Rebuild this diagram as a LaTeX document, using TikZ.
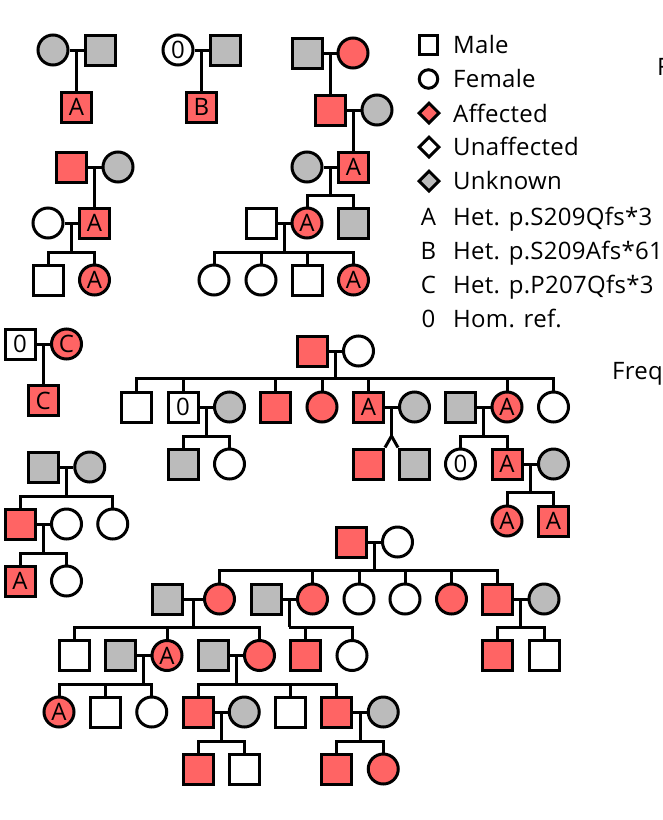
\documentclass[tikz,border=0pt]{standalone}
\usepackage{fontspec}
\setmainfont[LetterSpace=1.2]{Open Sans}
\usepackage{tikz}
\usetikzlibrary{shapes.geometric}
\definecolor{hitred}{HTML}{FF6464}
\definecolor{unkgray}{HTML}{BBBBBB}
\tikzset{
    male/.style={shape=rectangle, draw=black, line width=3pt, minimum size=30pt, inner sep=0pt, font=\fontsize{24}{24}\selectfont},
    female/.style={shape=circle, draw=black, line width=3pt, minimum size=30pt, inner sep=0pt, font=\fontsize{24}{24}\selectfont},
    hit/.style={fill=hitred},
    unk/.style={fill=unkgray},
    rel/.style={line width=3pt},
    keym/.style={shape=rectangle, draw=black, line width=3pt, minimum size=18.5pt, inner sep=0pt},
    keyf/.style={shape=circle, draw=black, line width=3pt, minimum size=18.5pt, inner sep=0pt},
    keyd/.style={shape=diamond, draw=black, line width=3pt, minimum size=21pt, inner sep=0pt},
    keytext/.style={anchor=base west, inner sep=0pt, font=\fontsize{24}{24}\selectfont},
    keyletter/.style={anchor=base, inner sep=0pt, font=\fontsize{24}{24}\selectfont},
}
\begin{document}
\begin{tikzpicture}[x=1pt, y=-1pt]
    \useasboundingbox (0, 0) rectangle (662, 820);
    % first row, left
    \node[female, unk] (A1) at (53, 50) {};
    \node[male, unk] (A2) at (100, 50) {};
    \node[male, hit] (A3) at (76.5, 107) {A};
    \coordinate (Am) at (76.5, 50);
    \draw[rel] (A1) to (A2);
    \draw[rel] (Am) to (A3.north);
    % first row, middle
    \node[female] (B1) at (178, 50) {0};
    \node[male, unk] (B2) at (225, 50) {};
    \node[male, hit] (B3) at (201.5, 107) {B};
    \coordinate (Bm) at (201.5, 50);
    \draw[rel] (B1) to (B2);
    \draw[rel] (Bm) to (B3.north);
    % right column, four generations
    \node[male, unk] (C1) at (307, 53) {};
    \node[female, hit] (C2) at (353, 53) {};
    \node[male, hit] (C3) at (330, 110) {};
    \node[female, unk] (C4) at (377, 110) {};
    \node[male, hit] (C5) at (353.5, 167) {A};
    \node[female, unk] (C6) at (307, 167) {};
    \node[female, hit] (C7) at (307, 223) {A};
    \node[male, unk] (C8) at (353.5, 223) {};
    \node[male] (C9) at (261, 223) {};
    \node[female] (C10) at (214, 280) {};
    \node[female] (C11) at (261, 280) {};
    \node[male] (C12) at (307, 280) {};
    \node[female, hit] (C13) at (353.5, 280) {A};
    \coordinate (Cm1) at (330, 53);
    \coordinate (Cm2) at (353.5, 110);
    \coordinate (Cm3) at (330, 167);
    \coordinate (Cb3) at (330, 195);
    \coordinate (Cm4) at (284, 223);
    \coordinate (Cb4) at (284, 252);
    \draw[rel] (C1) to (C2);
    \draw[rel] (Cm1) to (C3.north);
    \draw[rel] (C3) to (C4);
    \draw[rel] (Cm2) to (C5.north);
    \draw[rel] (C5) to (C6);
    \draw[rel] (Cm3) to (Cb3);
    \draw[rel] (C7.north) |- (Cb3);
    \draw[rel] (C8.north) |- (Cb3);
    \draw[rel] (C9) to (C7);
    \draw[rel] (Cm4) to (Cb4);
    \draw[rel] (C10.north) |- (Cb4);
    \draw[rel] (C11.north) |- (Cb4);
    \draw[rel] (C12.north) |- (Cb4);
    \draw[rel] (C13.north) |- (Cb4);
    % left column, three generations
    \node[male, hit] (D1) at (71, 167) {};
    \node[female, unk] (D2) at (118, 167) {};
    \node[male, hit] (D3) at (94.5, 223) {A};
    \node[female] (D4) at (48, 223) {};
    \node[male] (D5) at (48, 280) {};
    \node[female, hit] (D6) at (94.5, 280) {A};
    \coordinate (Dm1) at (94.5, 167);
    \coordinate (Dm2) at (71, 223);
    \coordinate (Db2) at (71, 252);
    \draw[rel] (D1) to (D2);
    \draw[rel] (Dm1) to (D3.north);
    \draw[rel] (D4) to (D3);
    \draw[rel] (Dm2) to (Db2);
    \draw[rel] (D5.north) |- (Db2);
    \draw[rel] (D6.north) |- (Db2);
    % key
    \node[keym] (K1) at (428.5, 45) {};
    \node[keyf] (K2) at (428.5, 79) {};
    \node[keyd, hit] (K3) at (429, 113) {};
    \node[keyd] (K4) at (429, 147) {};
    \node[keyd, unk] (K5) at (429, 181) {};
    \node[keytext] (T1) at (453, 53) {Male};
    \node[keytext] (T2) at (453, 87) {Female};
    \node[keytext] (T3) at (453, 122) {Affected};
    \node[keytext] (T4) at (453, 155) {Unaffected};
    \node[keytext] (T5) at (453, 189) {Unknown};
    \node[keyletter] (L1) at (428.5, 225.5) {A};
    \node[keyletter] (L2) at (428.5, 259.5) {B};
    \node[keyletter] (L3) at (428.5, 293) {C};
    \node[keyletter] (L4) at (428.5, 327) {0};
    \node[keytext] (T6) at (453, 225.5) {Het. p.S209Qfs*3};
    \node[keytext] (T7) at (453, 259.5) {Het. p.S209Afs*61};
    \node[keytext] (T8) at (453, 293) {Het. p.P207Qfs*3};
    \node[keytext] (T9) at (453, 327) {Hom. ref.};
    \node[keytext] (T10) at (657, 75) {F};
    \node[keytext] (T11) at (612, 379) {Freq};
    % small family, left edge
    \node[male] (E1) at (20, 344) {0};
    \node[female, hit] (E2) at (66.5, 344) {C};
    \node[male, hit] (E3) at (43.25, 400.5) {C};
    \coordinate (Em) at (43.25, 344);
    \draw[rel] (E1) to (E2);
    \draw[rel] (Em) to (E3.north);
    % large family, centre
    \node[male, hit] (F1) at (312, 351) {};
    \node[female] (F2) at (358.5, 351) {};
    \node[male] (F3) at (136.5, 407) {};
    \node[male] (F4) at (183, 407) {0};
    \node[female, unk] (F5) at (229.5, 407) {};
    \node[male, hit] (F6) at (275.5, 407) {};
    \node[female, hit] (F7) at (322, 407) {};
    \node[male, hit] (F8) at (368.5, 407) {A};
    \node[female, unk] (F9) at (414.5, 407) {};
    \node[male, unk] (F10) at (460.5, 407) {};
    \node[female, hit] (F11) at (507, 407) {A};
    \node[female] (F12) at (553.5, 407) {};
    \node[male, unk] (F13) at (183, 464) {};
    \node[female] (F14) at (229.5, 464) {};
    \node[male, hit] (F15) at (368.5, 464) {};
    \node[male, unk] (F16) at (414.5, 464) {};
    \node[female] (F17) at (460.5, 464) {0};
    \node[male, hit] (F18) at (507, 464) {A};
    \node[female, unk] (F19) at (553.5, 464) {};
    \node[female, hit] (F20) at (507, 521) {A};
    \node[male, hit] (F21) at (553.5, 521) {A};
    \coordinate (Fm1) at (335.25, 351);
    \coordinate (Fb1) at (335.25, 378.5);
    \coordinate (Fm2) at (206.25, 407);
    \coordinate (Fb2) at (206.25, 436);
    \coordinate (Fm3) at (391.5, 407);
    \coordinate (Fb3) at (391.5, 436);
    \coordinate (Fm4) at (483.75, 407);
    \coordinate (Fb4) at (483.75, 436);
    \coordinate (Fm5) at (530.25, 464);
    \coordinate (Fb5) at (530.25, 492.5);
    \draw[rel] (F1) to (F2);
    \draw[rel] (Fm1) to (Fb1);
    \draw[rel] (F3.north) |- (Fb1);
    \draw[rel] (F4.north) |- (Fb1);
    \draw[rel] (F6.north) |- (Fb1);
    \draw[rel] (F7.north) |- (Fb1);
    \draw[rel] (F8.north) |- (Fb1);
    \draw[rel] (F11.north) |- (Fb1);
    \draw[rel] (F12.north) |- (Fb1);
    \draw[rel] (F4) to (F5);
    \draw[rel] (Fm2) to (Fb2);
    \draw[rel] (F13.north) |- (Fb2);
    \draw[rel] (F14.north) |- (Fb2);
    \draw[rel] (F8) to (F9);
    \draw[rel] (Fm3) to (Fb3);
    \draw[rel] (Fb3) to (F15.north east);
    \draw[rel] (Fb3) to (F16.north west);
    \draw[rel] (F10) to (F11);
    \draw[rel] (Fm4) to (Fb4);
    \draw[rel] (F17.north) |- (Fb4);
    \draw[rel] (F18.north) |- (Fb4);
    \draw[rel] (F18) to (F19);
    \draw[rel] (Fm5) to (Fb5);
    \draw[rel] (F20.north) |- (Fb5);
    \draw[rel] (F21.north) |- (Fb5);
    % left column, lower
    \node[male, unk] (G1) at (43.25, 467) {};
    \node[female, unk] (G2) at (89.75, 467) {};
    \node[male, hit] (G3) at (20, 524) {};
    \node[female] (G4) at (66.5, 524) {};
    \node[female] (G5) at (112.75, 524) {};
    \node[male, hit] (G6) at (20, 581) {A};
    \node[female] (G7) at (66.5, 581) {};
    \coordinate (Gm1) at (66.5, 467);
    \coordinate (Gb1) at (66.5, 496);
    \coordinate (Gm2) at (43.25, 524);
    \coordinate (Gb2) at (43.25, 553);
    \draw[rel] (G1) to (G2);
    \draw[rel] (Gm1) to (Gb1);
    \draw[rel] (G3.north) |- (Gb1);
    \draw[rel] (G5.north) |- (Gb1);
    \draw[rel] (G3) to (G4);
    \draw[rel] (Gm2) to (Gb2);
    \draw[rel] (G6.north) |- (Gb2);
    \draw[rel] (G7.north) |- (Gb2);
    % bottom family
    \node[male, hit] (H1) at (351, 542) {};
    \node[female] (H2) at (397.5, 542) {};
    \node[male, unk] (H3) at (167, 599) {};
    \node[female, hit] (H4) at (219.5, 599) {};
    \node[male, unk] (H5) at (266, 599) {};
    \node[female, hit] (H6) at (312.5, 599) {};
    \node[female] (H7) at (359, 599) {};
    \node[female] (H8) at (405, 599) {};
    \node[female, hit] (H9) at (451.5, 599) {};
    \node[male, hit] (H10) at (497.5, 599) {};
    \node[female, unk] (H11) at (544, 599) {};
    \node[male] (H12) at (74, 655.5) {};
    \node[male, unk] (H13) at (120.5, 655.5) {};
    \node[female, hit] (H14) at (167, 655.5) {A};
    \node[male, unk] (H15) at (213.25, 655.5) {};
    \node[female, hit] (H16) at (259.5, 655.5) {};
    \node[male, hit] (H17) at (305.75, 655.5) {};
    \node[female] (H18) at (352, 655.5) {};
    \node[male, hit] (H19) at (497.5, 655.5) {};
    \node[male] (H20) at (544, 655.5) {};
    \node[female, hit] (H21) at (59, 712) {A};
    \node[male] (H22) at (105.25, 712) {};
    \node[female] (H23) at (151.75, 712) {};
    \node[male, hit] (H24) at (198, 712) {};
    \node[female, unk] (H25) at (244.25, 712) {};
    \node[male] (H26) at (290.75, 712) {};
    \node[male, hit] (H27) at (336.75, 712) {};
    \node[female, unk] (H28) at (383.25, 712) {};
    \node[male, hit] (H29) at (198, 769) {};
    \node[male] (H30) at (244.25, 769) {};
    \node[male, hit] (H31) at (336.75, 769) {};
    \node[female, hit] (H32) at (383.25, 769) {};
    \coordinate (Hm1) at (374.25, 542);
    \coordinate (Hb1) at (374.25, 570);
    \coordinate (Hm2) at (193.25, 599);
    \coordinate (Hb2) at (193.25, 627);
    \coordinate (Hm3) at (289.25, 599);
    \coordinate (Hb3) at (289.25, 627);
    \coordinate (Hm4) at (520.75, 599);
    \coordinate (Hb4) at (520.75, 627);
    \coordinate (Hm5) at (143.75, 655.5);
    \coordinate (Hb5) at (143.75, 684);
    \coordinate (Hm6) at (236.5, 655.5);
    \coordinate (Hb6) at (236.5, 684);
    \coordinate (Hm7) at (221, 712);
    \coordinate (Hb7) at (221, 741);
    \coordinate (Hm8) at (360, 712);
    \coordinate (Hb8) at (360, 741);
    \draw[rel] (H1) to (H2);
    \draw[rel] (Hm1) to (Hb1);
    \draw[rel] (H4.north) |- (Hb1);
    \draw[rel] (H6.north) |- (Hb1);
    \draw[rel] (H7.north) |- (Hb1);
    \draw[rel] (H8.north) |- (Hb1);
    \draw[rel] (H9.north) |- (Hb1);
    \draw[rel] (H10.north) |- (Hb1);
    \draw[rel] (H3) to (H4);
    \draw[rel] (Hm2) to (Hb2);
    \draw[rel] (H12.north) |- (Hb2);
    \draw[rel] (H14.north) |- (Hb2);
    \draw[rel] (H16.north) |- (Hb2);
    \draw[rel] (H5) to (H6);
    \draw[rel] (Hm3) to (Hb3);
    \draw[rel] (H17.north) |- (Hb3);
    \draw[rel] (H18.north) |- (Hb3);
    \draw[rel] (H10) to (H11);
    \draw[rel] (Hm4) to (Hb4);
    \draw[rel] (H19.north) |- (Hb4);
    \draw[rel] (H20.north) |- (Hb4);
    \draw[rel] (H13) to (H14);
    \draw[rel] (Hm5) to (Hb5);
    \draw[rel] (H21.north) |- (Hb5);
    \draw[rel] (H22.north) |- (Hb5);
    \draw[rel] (H23.north) |- (Hb5);
    \draw[rel] (H15) to (H16);
    \draw[rel] (Hm6) to (Hb6);
    \draw[rel] (H24.north) |- (Hb6);
    \draw[rel] (H26.north) |- (Hb6);
    \draw[rel] (H27.north) |- (Hb6);
    \draw[rel] (H24) to (H25);
    \draw[rel] (Hm7) to (Hb7);
    \draw[rel] (H29.north) |- (Hb7);
    \draw[rel] (H30.north) |- (Hb7);
    \draw[rel] (H27) to (H28);
    \draw[rel] (Hm8) to (Hb8);
    \draw[rel] (H31.north) |- (Hb8);
    \draw[rel] (H32.north) |- (Hb8);
\end{tikzpicture}
\end{document}
